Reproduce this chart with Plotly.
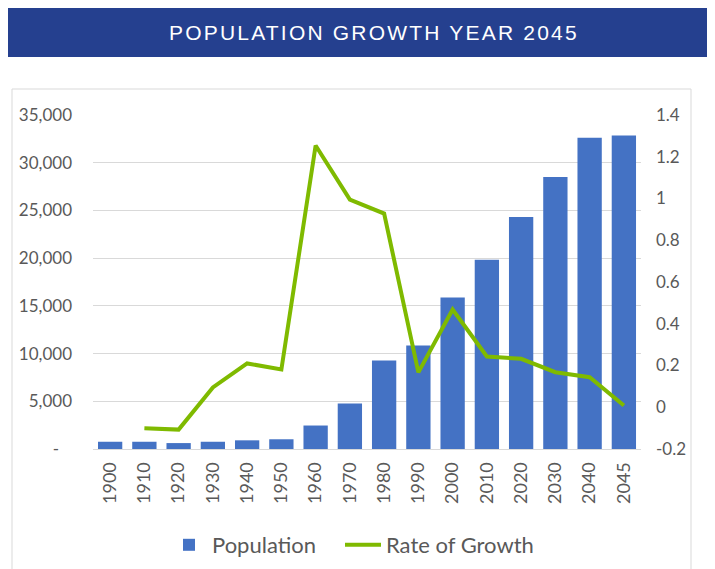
import plotly.graph_objects as go

years = ["1900", "1910", "1920", "1930", "1940", "1950", "1960", "1970",
         "1980", "1990", "2000", "2010", "2020", "2030", "2040", "2045"]
population = [760, 760, 620, 760, 910, 1020, 2460, 4770,
              9280, 10850, 15880, 19830, 24300, 28490, 32620, 32860]
growth_rate = [None, -0.10, -0.107, 0.095, 0.21, 0.181, 1.254, 0.995,
               0.928, 0.167, 0.468, 0.243, 0.232, 0.168, 0.144, 0.008]

left_ticks = [0, 5000, 10000, 15000, 20000, 25000, 30000, 35000]
left_text = ["-\u00a0\u00a0\u00a0", "5,000", "10,000", "15,000", "20,000", "25,000", "30,000", "35,000"]
right_ticks = [-0.2, 0, 0.2, 0.4, 0.6, 0.8, 1.0, 1.2, 1.4]
right_text = ["-0.2", "0", "0.2", "0.4", "0.6", "0.8", "1", "1.2", "1.4"]

W, H = 715, 569
ML, MR, MT, MB = 93, 74, 115, 120
PW, PH = W - ML - MR, H - MT - MB


def px(x):
    return (x - ML) / PW


def py(y):
    return (H - MB - y) / PH


FONT = "Lato"
GREY = "#595959"

fig = go.Figure()
fig.add_trace(go.Bar(
    x=years, y=population, name="Population",
    marker=dict(color="#4472C4", line=dict(width=0)),
    yaxis="y", legend="legend",
))
fig.add_trace(go.Scatter(
    x=years, y=growth_rate, name="Rate of Growth", mode="lines",
    line=dict(color="#7FBA00", width=4),
    yaxis="y2", legend="legend2",
))

legend_common = dict(orientation="h", xref="container", xanchor="left",
                     y=1 - 545 / H, yref="container", yanchor="middle",
                     font=dict(family=FONT, size=22, color=GREY),
                     itemwidth=36, bgcolor="rgba(0,0,0,0)")

fig.update_layout(
    width=W, height=H,
    margin=dict(l=ML, r=MR, t=MT, b=MB, pad=0, autoexpand=False),
    paper_bgcolor="white", plot_bgcolor="white",
    bargap=0.29,
    showlegend=True,
    legend=dict(x=166 / W, **legend_common),
    legend2=dict(x=340 / W, **legend_common),
    xaxis=dict(type="category", tickangle=-90, automargin=False,
               tickfont=dict(family=FONT, size=18, color=GREY),
               showgrid=False, showline=True, linecolor="#D9D9D9", linewidth=1,
               ticks="", ticklabelstandoff=5),
    yaxis=dict(range=[0, 35000], tickvals=left_ticks, ticktext=left_text, automargin=False,
               tickfont=dict(family=FONT, size=17, color=GREY),
               showgrid=True, gridcolor="#D9D9D9", gridwidth=1,
               zeroline=False, showline=False, ticks="", ticklabelstandoff=20),
    yaxis2=dict(range=[-0.2, 1.4], tickvals=right_ticks, ticktext=right_text,
                overlaying="y", side="right", automargin=False,
                tickfont=dict(family=FONT, size=17, color=GREY),
                showgrid=False, zeroline=False, showline=False, ticks="",
                ticklabelstandoff=14),
    shapes=[
        dict(type="rect", xref="paper", yref="paper",
             x0=px(8), x1=px(707), y0=py(57), y1=py(8),
             fillcolor="#25408F", line=dict(width=0), layer="below"),
        dict(type="rect", xref="paper", yref="paper",
             x0=px(12), x1=px(691), y0=py(580), y1=py(89),
             fillcolor="rgba(0,0,0,0)", line=dict(color="#D9D9D9", width=1), layer="below"),
    ],
    annotations=[
        dict(text='<span style="letter-spacing:2.2px">POPULATION GROWTH YEAR 2045</span>',
             xref="paper", yref="paper", x=px(374), y=py(32),
             xanchor="center", yanchor="middle", showarrow=False,
             font=dict(family="Liberation Sans", size=21, color="white")),
    ],
)

fig.write_html("out.html", config={"displayModeBar": False},
               post_script="document.body.style.margin='0';")
